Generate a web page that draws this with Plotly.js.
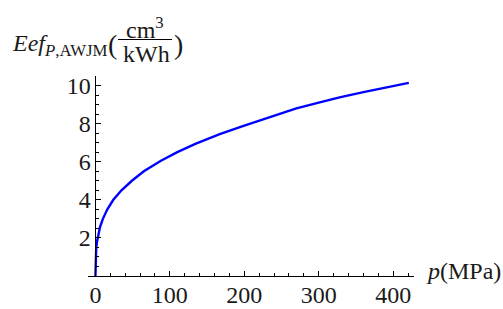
<!DOCTYPE html>
<html>
<head>
<meta charset="utf-8">
<script src="https://cdn.plot.ly/plotly-3.0.1.min.js"></script>
<style>html,body{margin:0;padding:0;background:#fff;}#chart{width:503px;height:309px;}</style>
</head>
<body>
<div id="chart"></div>
<script>
// Data
var pressure = [0, 0.1, 0.3, 0.6, 1, 2, 3.6, 6, 10, 16, 24, 35, 49, 65, 88, 110, 135, 167, 200, 234, 270, 300, 328, 360, 390, 421];
var efficiency = [0, 0.67, 0.95, 1.2, 1.42, 1.78, 2.15, 2.55, 3.0, 3.5, 4.0, 4.5, 5.0, 5.5, 6.05, 6.5, 6.95, 7.45, 7.9, 8.35, 8.8, 9.1, 9.38, 9.65, 9.9, 10.14];
var xTickVals = [0, 100, 200, 300, 400];
var xTickText = ["0", "100", "200", "300", "400"];
var yTickVals = [2, 4, 6, 8, 10];
var yTickText = ["2", "4", "6", "8", "10"];

var W = 503, H = 309;
var M = {l: 88, r: 89, t: 76, b: 33};
var xRange = [-10, 428], yRange = [0, 10.5];
var PW = W - M.l - M.r, PH = H - M.t - M.b;
function px(x) { return (x - M.l) / PW; }
function py(y) { return (H - M.b - y) / PH; }

var FONT = 'Liberation Serif';
var TXT = '#1a1a1a';

var trace = {
  x: pressure, y: efficiency, type: 'scatter', mode: 'lines',
  line: {color: '#0000ff', width: 2.4}, hoverinfo: 'skip'
};

var layout = {
  width: W, height: H,
  margin: M,
  paper_bgcolor: '#fff', plot_bgcolor: '#fff',
  showlegend: false,
  font: {family: FONT, size: 24, color: TXT},
  xaxis: {
    range: xRange, showgrid: false, zeroline: false,
    showline: true, linecolor: '#000', linewidth: 1,
    ticks: 'inside', ticklen: 5, tickcolor: '#000', tickwidth: 1,
    tickmode: 'array', tickvals: xTickVals, ticktext: xTickText,
    tickfont: {family: FONT, size: 24, color: TXT},
    ticklabelstandoff: -3,
    minor: {tickmode: 'linear', tick0: 0, dtick: 20, ticks: 'inside', ticklen: 3, tickcolor: '#000', tickwidth: 1, showgrid: false}
  },
  yaxis: {
    range: yRange, showgrid: false, zeroline: false,
    anchor: 'free', position: (0 - xRange[0]) / (xRange[1] - xRange[0]), side: 'left',
    showline: true, linecolor: '#000', linewidth: 1,
    ticks: 'inside', ticklen: 5, tickcolor: '#000', tickwidth: 1,
    tickmode: 'array', tickvals: yTickVals, ticktext: yTickText,
    tickfont: {family: FONT, size: 24, color: TXT},
    minor: {tickmode: 'linear', tick0: 0, dtick: 0.5, ticks: 'inside', ticklen: 3, tickcolor: '#000', tickwidth: 1, showgrid: false}
  },
  shapes: [
    {type: 'line', xref: 'paper', yref: 'paper', x0: px(118), x1: px(172), y0: py(39.5), y1: py(39.5),
     line: {color: '#000', width: 1}}
  ],
  annotations: [
    {xref: 'paper', yref: 'paper', x: px(10), y: py(45), xanchor: 'left', yanchor: 'middle', showarrow: false,
     text: '<i>Eef</i><sub><i>P</i>,AWJM</sub>', font: {family: FONT, size: 24, color: TXT}},
    {xref: 'paper', yref: 'paper', x: px(106), y: py(45), xanchor: 'left', yanchor: 'middle', showarrow: false,
     text: '(', font: {family: FONT, size: 28, color: TXT}},
    {xref: 'paper', yref: 'paper', x: px(145), y: py(28), xanchor: 'center', yanchor: 'middle', showarrow: false,
     text: 'cm<sup>3</sup>', font: {family: FONT, size: 24, color: TXT}},
    {xref: 'paper', yref: 'paper', x: px(146), y: py(54), xanchor: 'center', yanchor: 'middle', showarrow: false,
     text: 'kWh', font: {family: FONT, size: 24, color: TXT}},
    {xref: 'paper', yref: 'paper', x: px(172), y: py(45), xanchor: 'left', yanchor: 'middle', showarrow: false,
     text: ')', font: {family: FONT, size: 28, color: TXT}},
    {xref: 'paper', yref: 'paper', x: px(424), y: py(271), xanchor: 'left', yanchor: 'middle', showarrow: false,
     text: '<i>p</i>(MPa)', font: {family: FONT, size: 24, color: TXT}}
  ]
};

Plotly.newPlot('chart', [trace], layout, {staticPlot: true, displayModeBar: false});
</script>
</body>
</html>
